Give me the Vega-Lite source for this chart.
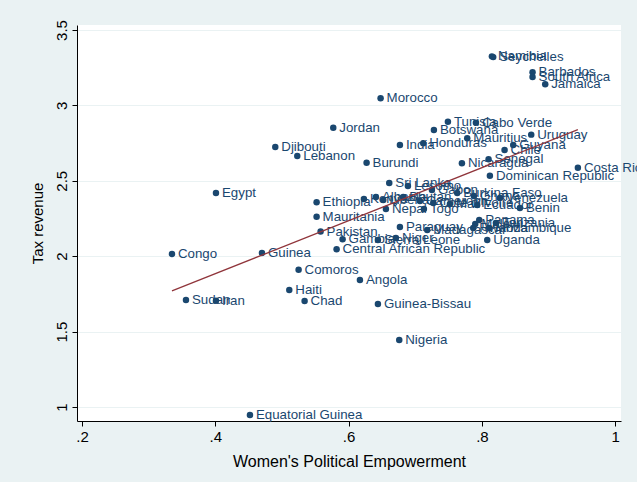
{
  "$schema": "https://vega.github.io/schema/vega-lite/v6.json",
  "width": 544,
  "height": 396,
  "autosize": {"type": "none"},
  "padding": {"left": 77, "top": 25, "right": 16, "bottom": 61},
  "background": "#eaf2f3",
  "view": {"fill": "white", "stroke": null},
  "config": {
    "font": "Liberation Sans",
    "axis": {"labelFont": "Liberation Sans", "titleFont": "Liberation Sans", "labelColor": "#000000", "titleColor": "#000000", "titleFontWeight": "normal", "domainColor": "#000000", "tickColor": "#000000"}
  },
  "data": {"values": [
    {"country": "Seychelles", "wpe": 0.817, "tax": 3.320},
    {"country": "Namibia", "wpe": 0.815, "tax": 3.325},
    {"country": "Barbados", "wpe": 0.876, "tax": 3.219},
    {"country": "South Africa", "wpe": 0.876, "tax": 3.188},
    {"country": "Jamaica", "wpe": 0.895, "tax": 3.140},
    {"country": "Morocco", "wpe": 0.648, "tax": 3.047},
    {"country": "Tunisia", "wpe": 0.749, "tax": 2.892},
    {"country": "Cabo Verde", "wpe": 0.791, "tax": 2.885},
    {"country": "Jordan", "wpe": 0.577, "tax": 2.852},
    {"country": "Botswana", "wpe": 0.728, "tax": 2.837},
    {"country": "Mauritius", "wpe": 0.778, "tax": 2.782},
    {"country": "Uruguay", "wpe": 0.874, "tax": 2.806},
    {"country": "India", "wpe": 0.677, "tax": 2.737},
    {"country": "Honduras", "wpe": 0.712, "tax": 2.749},
    {"country": "Guyana", "wpe": 0.847, "tax": 2.737},
    {"country": "Chile", "wpe": 0.834, "tax": 2.704},
    {"country": "Djibouti", "wpe": 0.490, "tax": 2.724},
    {"country": "Lebanon", "wpe": 0.523, "tax": 2.664},
    {"country": "Burundi", "wpe": 0.627, "tax": 2.620},
    {"country": "Nicaragua", "wpe": 0.770, "tax": 2.616},
    {"country": "Senegal", "wpe": 0.810, "tax": 2.642},
    {"country": "Costa Rica", "wpe": 0.944, "tax": 2.587},
    {"country": "Dominican Republic", "wpe": 0.812, "tax": 2.534},
    {"country": "Egypt", "wpe": 0.401, "tax": 2.419},
    {"country": "Sri Lanka", "wpe": 0.661, "tax": 2.485},
    {"country": "Lesotho", "wpe": 0.689, "tax": 2.466},
    {"country": "Gabon", "wpe": 0.725, "tax": 2.439},
    {"country": "Burkina Faso", "wpe": 0.763, "tax": 2.419},
    {"country": "Ghana", "wpe": 0.788, "tax": 2.399},
    {"country": "Venezuela", "wpe": 0.827, "tax": 2.386},
    {"country": "Ethiopia", "wpe": 0.552, "tax": 2.357},
    {"country": "Kenya", "wpe": 0.623, "tax": 2.379},
    {"country": "Albania", "wpe": 0.641, "tax": 2.393},
    {"country": "Liberia", "wpe": 0.652, "tax": 2.373},
    {"country": "Bhutan", "wpe": 0.682, "tax": 2.393},
    {"country": "Cameroon", "wpe": 0.707, "tax": 2.366},
    {"country": "Nepal", "wpe": 0.656, "tax": 2.313},
    {"country": "Togo", "wpe": 0.713, "tax": 2.313},
    {"country": "Cote d'Ivoire", "wpe": 0.727, "tax": 2.353},
    {"country": "Mali", "wpe": 0.752, "tax": 2.346},
    {"country": "Ecuador", "wpe": 0.793, "tax": 2.340},
    {"country": "Benin", "wpe": 0.857, "tax": 2.320},
    {"country": "Mauritania", "wpe": 0.552, "tax": 2.262},
    {"country": "Pakistan", "wpe": 0.558, "tax": 2.163},
    {"country": "Gambia", "wpe": 0.591, "tax": 2.112},
    {"country": "Central African Republic", "wpe": 0.582, "tax": 2.046},
    {"country": "Sierra Leone", "wpe": 0.644, "tax": 2.107},
    {"country": "Niger", "wpe": 0.671, "tax": 2.121},
    {"country": "Paraguay", "wpe": 0.677, "tax": 2.194},
    {"country": "Madagascar", "wpe": 0.718, "tax": 2.174},
    {"country": "Panama", "wpe": 0.796, "tax": 2.240},
    {"country": "Malawi", "wpe": 0.790, "tax": 2.214},
    {"country": "Rwanda", "wpe": 0.787, "tax": 2.187},
    {"country": "Mozambique", "wpe": 0.811, "tax": 2.187},
    {"country": "Tanzania", "wpe": 0.821, "tax": 2.220},
    {"country": "Uganda", "wpe": 0.808, "tax": 2.107},
    {"country": "Congo", "wpe": 0.335, "tax": 2.015},
    {"country": "Guinea", "wpe": 0.470, "tax": 2.021},
    {"country": "Comoros", "wpe": 0.525, "tax": 1.910},
    {"country": "Angola", "wpe": 0.617, "tax": 1.842},
    {"country": "Haiti", "wpe": 0.511, "tax": 1.776},
    {"country": "Chad", "wpe": 0.534, "tax": 1.703},
    {"country": "Guinea-Bissau", "wpe": 0.644, "tax": 1.683},
    {"country": "Nigeria", "wpe": 0.676, "tax": 1.444},
    {"country": "Sudan", "wpe": 0.356, "tax": 1.710},
    {"country": "Iran", "wpe": 0.401, "tax": 1.705},
    {"country": "Equatorial Guinea", "wpe": 0.452, "tax": 0.947}
  ]},
  "encoding": {
    "x": {
      "field": "wpe", "type": "quantitative",
      "scale": {"domain": [0.1925, 1.0087], "nice": false, "zero": false},
      "axis": {
        "title": "Women's Political Empowerment", "titleFontSize": 16, "titlePadding": 9,
        "values": [0.2, 0.4, 0.6, 0.8, 1.0],
        "labelExpr": "datum.value == 1 ? '1' : replace(format(datum.value, '.1f'), '0.', '.')",
        "labelFontSize": 15, "tickSize": 5, "grid": false, "labelPadding": 3, "labelFlush": false
      }
    },
    "y": {
      "field": "tax", "type": "quantitative",
      "scale": {"domain": [0.907, 3.533], "nice": false, "zero": false},
      "axis": {
        "title": "Tax revenue", "titleFontSize": 15, "titlePadding": 9,
        "values": [1, 1.5, 2, 2.5, 3, 3.5],
        "format": "~g",
        "labelFontSize": 15, "labelAngle": 270, "labelAlign": "center", "labelBaseline": "bottom",
        "tickSize": 5, "labelPadding": 3, "labelFlush": false,
        "grid": true, "gridColor": "#eaf2f3", "gridWidth": 1
      }
    }
  },
  "layer": [
    {
      "mark": {"type": "circle", "size": 42, "color": "#1a476f", "opacity": 1}
    },
    {
      "mark": {"type": "text", "align": "left", "baseline": "middle", "dx": 6, "fontSize": 13.3, "color": "#1a476f", "font": "Liberation Sans"},
      "encoding": {"text": {"field": "country"}}
    },
    {
      "transform": [{"regression": "tax", "on": "wpe"}],
      "mark": {"type": "line", "color": "#90353b", "strokeWidth": 1.3}
    }
  ]
}
